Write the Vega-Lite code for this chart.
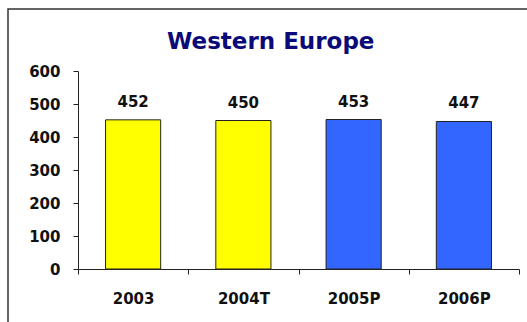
{
  "$schema": "https://vega.github.io/schema/vega-lite/v6.json",
  "autosize": "none",
  "width": 530,
  "height": 330,
  "padding": {"left": 8, "top": 9, "right": 0, "bottom": 0},
  "background": "white",
  "config": {
    "view": {"stroke": "#333333", "strokeWidth": 1.5},
    "font": "DejaVu Sans"
  },
  "title": {
    "text": "Western Europe",
    "font": "DejaVu Sans",
    "fontSize": 23,
    "fontWeight": "bold",
    "color": "#0a0a78",
    "anchor": "start",
    "frame": "group",
    "baseline": "alphabetic",
    "offset": -63,
    "dx": 159
  },
  "data": {
    "values": [
      {"year": "2003", "value": 452, "kind": "actual"},
      {"year": "2004T", "value": 450, "kind": "actual"},
      {"year": "2005P", "value": 453, "kind": "forecast"},
      {"year": "2006P", "value": 447, "kind": "forecast"}
    ]
  },
  "encoding": {
    "x": {
      "field": "year",
      "type": "nominal",
      "sort": null,
      "scale": {"range": [70, 511], "paddingInner": 0, "paddingOuter": 0},
      "axis": {
        "title": null,
        "labelAngle": 0,
        "offset": -70,
        "tickBand": "extent",
        "domainColor": "#222",
        "tickColor": "#222",
        "tickSize": 5,
        "labelFont": "DejaVu Sans",
        "labelFontSize": 15,
        "labelFontWeight": "bold",
        "labelColor": "#111",
        "labelPadding": 17,
        "labelBaseline": "top"
      }
    },
    "y": {
      "field": "value",
      "type": "quantitative",
      "scale": {"domain": [0, 600], "range": [260, 62], "nice": false},
      "axis": {
        "title": null,
        "values": [0, 100, 200, 300, 400, 500, 600],
        "grid": false,
        "offset": -70,
        "domainColor": "#222",
        "tickColor": "#222",
        "tickSize": 5,
        "labelFont": "DejaVu Sans",
        "labelFontSize": 15,
        "labelFontWeight": "bold",
        "labelColor": "#111",
        "labelPadding": 13
      }
    }
  },
  "layer": [
    {
      "mark": {"type": "bar", "stroke": "#222", "strokeWidth": 1, "width": {"band": 0.5}},
      "encoding": {
        "color": {
          "field": "kind",
          "type": "nominal",
          "scale": {"domain": ["actual", "forecast"], "range": ["#ffff00", "#3366ff"]},
          "legend": null
        }
      }
    },
    {
      "mark": {"type": "text", "baseline": "alphabetic", "dy": -13, "fontSize": 15, "fontWeight": "bold", "color": "#111"},
      "encoding": {"text": {"field": "value", "type": "quantitative"}}
    }
  ]
}
